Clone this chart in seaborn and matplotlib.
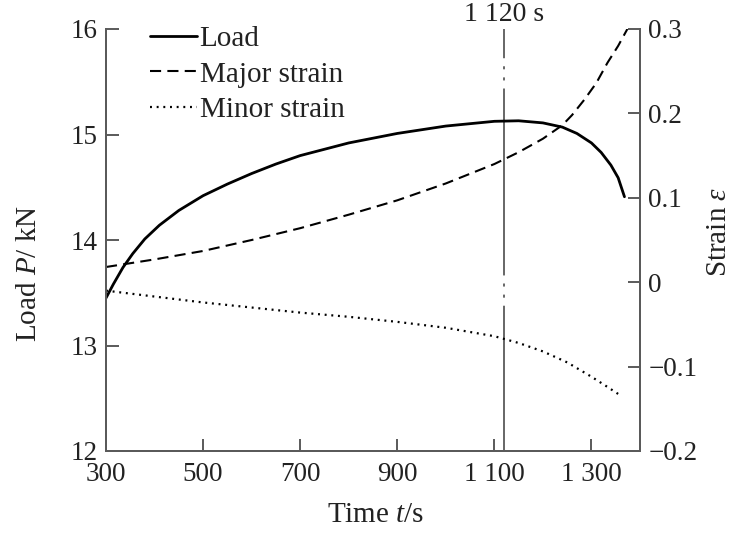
import matplotlib
matplotlib.use("Agg")
import matplotlib.pyplot as plt
import seaborn as sns
import pandas as pd

# Load P (kN) over time
load_time = [300, 315, 335, 355, 380, 410, 450, 500, 550, 600, 650, 700, 800,
             900, 1000, 1100, 1150, 1200, 1240, 1270, 1300, 1320, 1340, 1355,
             1368]
load_kn = [13.45, 13.58, 13.74, 13.87, 14.01, 14.14, 14.28, 14.42, 14.53,
           14.63, 14.72, 14.80, 14.92, 15.01, 15.08, 15.125, 15.13, 15.11,
           15.07, 15.01, 14.92, 14.83, 14.71, 14.59, 14.41]

# Major strain over time
major_time = [300, 400, 500, 600, 700, 800, 900, 1000, 1100, 1150, 1200, 1240,
              1260, 1285, 1310, 1333, 1355, 1374]
major_strain = [0.018, 0.027, 0.037, 0.050, 0.064, 0.080, 0.097, 0.117, 0.140,
                0.154, 0.170, 0.186, 0.198, 0.216, 0.236, 0.260, 0.280, 0.300]

# Minor strain over time
minor_time = [300, 400, 500, 600, 700, 800, 900, 1000, 1100, 1150, 1200, 1250,
              1300, 1330, 1362]
minor_strain = [-0.010, -0.017, -0.024, -0.030, -0.036, -0.041, -0.047, -0.054,
                -0.064, -0.072, -0.082, -0.095, -0.112, -0.123, -0.135]

marker_time = 1120
marker_label = "1 120 s"

x_ticks = [300, 500, 700, 900, 1100, 1300]
x_tick_labels = ["300", "500", "700", "900", "1 100", "1 300"]
load_ticks = [12, 13, 14, 15, 16]
strain_ticks = [-0.2, -0.1, 0, 0.1, 0.2, 0.3]
strain_tick_labels = ["\u22120.2", "\u22120.1", "0", "0.1", "0.2", "0.3"]

sns.set_theme(style="ticks")
plt.rcParams["font.family"] = ["Liberation Serif", "DejaVu Serif"]
plt.rcParams["mathtext.fontset"] = "custom"
plt.rcParams["mathtext.rm"] = "Liberation Serif"
plt.rcParams["mathtext.it"] = "Liberation Serif:italic"
plt.rcParams["lines.scale_dashes"] = False

ink = "#222222"
axis_grey = "#5a5a5a"
W, H = 734, 536

fig = plt.figure(figsize=(W / 100, H / 100), dpi=100)
ax = fig.add_axes([106 / W, 1 - 451 / H, 534 / W, 422 / H])
ax2 = ax.twinx()

df_load = pd.DataFrame({"t": load_time, "P": load_kn})
df_major = pd.DataFrame({"t": major_time, "e": major_strain})
df_minor = pd.DataFrame({"t": minor_time, "e": minor_strain})

sns.lineplot(data=df_load, x="t", y="P", ax=ax, color="black", linewidth=2.0,
             label="Load", legend=False)
sns.lineplot(data=df_major, x="t", y="e", ax=ax2, color="black", linewidth=1.5,
             label="Major strain", legend=False)
sns.lineplot(data=df_minor, x="t", y="e", ax=ax2, color="black", linewidth=1.6,
             label="Minor strain", legend=False)
load_line = ax.lines[0]
major_line, minor_line = ax2.lines[0], ax2.lines[1]
major_line.set_linestyle((0, (8.0, 4.5)))
minor_line.set_linestyle((0, (1.4, 3.4)))

# vertical marker: long dash followed by two dots
ax.plot([marker_time, marker_time], [12, 16], color="#666666", linewidth=1.4,
        linestyle=(30.0, (134.6, 5.8, 2.2, 5.8, 2.2, 5.8)), zorder=1)
ax.text(marker_time, 16.02, marker_label, ha="center", va="bottom",
        fontsize=20, color=ink)

ax.set_xlim(300, 1400)
ax.set_ylim(12, 16)
ax2.set_ylim(-0.2, 0.3)

ax.set_xticks(x_ticks)
ax.set_xticklabels(x_tick_labels)
ax.set_yticks(load_ticks)
ax.set_yticklabels([str(v) for v in load_ticks])
ax2.set_yticks(strain_ticks)
ax2.set_yticklabels(strain_tick_labels)

for a in (ax, ax2):
    a.spines["top"].set_visible(False)
    for s in ("left", "right", "bottom"):
        a.spines[s].set_color(axis_grey)
        a.spines[s].set_linewidth(1.4)
    a.tick_params(direction="in", length=9, width=1.4, color=axis_grey,
                  labelsize=19.5, labelcolor=ink)
ax.tick_params(axis="y", pad=6)
ax.tick_params(axis="x", pad=8)
ax2.tick_params(axis="y", pad=6)

ax.set_xlabel("")
ax.set_ylabel("")
ax2.set_ylabel("")
fig.text(376 / W, 1 - 515 / H, "Time $t$/s", fontsize=21, color=ink,
         ha="center", va="center")
fig.text(29 / W, 1 - 273 / H, "Load $P$/ kN", fontsize=21, color=ink,
         ha="center", va="center", rotation=90)
fig.text(719 / W, 1 - 232 / H, "Strain $\\varepsilon$", fontsize=21,
         color=ink, ha="center", va="center", rotation=90)

ax.legend(handles=[load_line, major_line, minor_line],
          labels=["Load", "Major strain", "Minor strain"],
          loc="upper left", bbox_to_anchor=(150 / W, 1 - 26 / H),
          bbox_transform=fig.transFigure, frameon=False, fontsize=21,
          handlelength=1.6, handletextpad=0.1, labelspacing=0.3,
          borderpad=0, borderaxespad=0, labelcolor=ink)

fig.savefig("out.png", dpi=100)
